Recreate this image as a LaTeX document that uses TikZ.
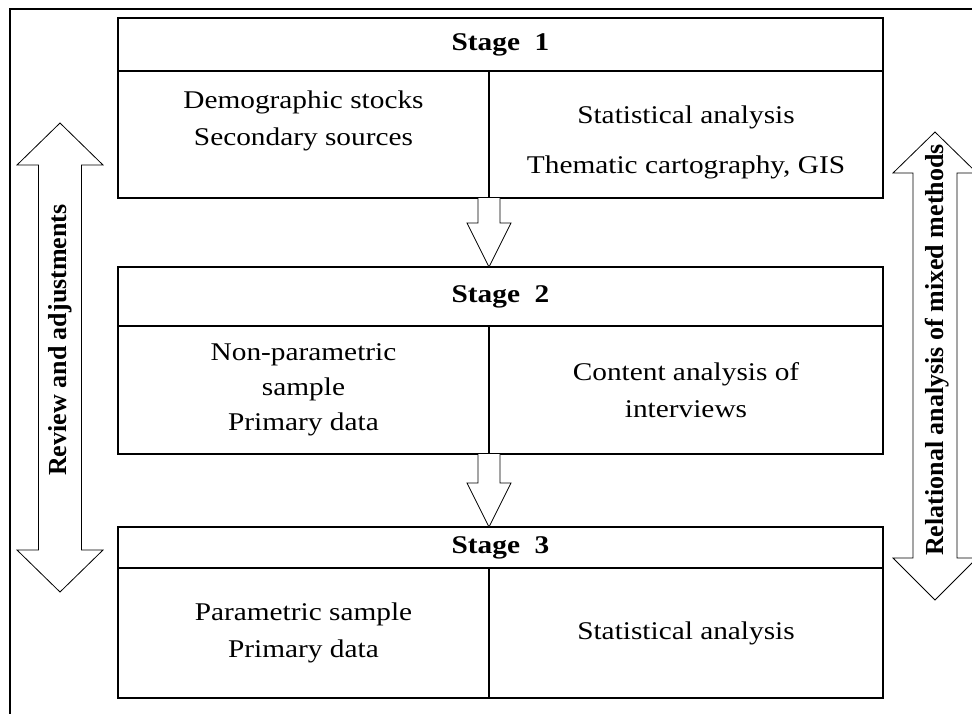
\documentclass[tikz,border=0pt]{standalone}
\usepackage{fontspec}
\setmainfont{Liberation Serif}[FakeStretch=1.15]
\newfontfamily\sidefont{Liberation Serif}
\usetikzlibrary{positioning}
\usetikzlibrary{calc}

% hollow block arrow from a box bottom (#1) down to a tip (#2)
\newcommand{\stagearrow}[2]{%
  \draw[hollow] ($(#1)+(-11,0)$) -- ($(#2)+(-11,44)$) -- ($(#2)+(-22,44)$) -- (#2)
    -- ($(#2)+(22,44)$) -- ($(#2)+(11,44)$) -- ($(#1)+(11,0)$);}

\begin{document}
\begin{tikzpicture}[x=1pt, y=1pt]
% -------------------------------------------------
\tikzset{
  base/.style={draw, line width=2pt, inner sep=0pt, outer sep=0pt, align=center},
  head/.style={base, rectangle, minimum width=765pt, font=\fontsize{25.5}{30}\selectfont\bfseries},
  cell/.style={base, rectangle, font=\fontsize{25.5}{37}\selectfont},
  lcell/.style={cell, minimum width=371pt},
  rcell/.style={cell, minimum width=394pt},
  hollow/.style={draw, line width=0.8pt, fill=white},
  side/.style={rotate=90, inner sep=0pt, font=\sidefont\fontsize{26}{30}\selectfont\bfseries},
}
    \clip (0,0) rectangle (972,-713);
    \draw[line width=1.6pt] (980,-9) -- (10,-9) -- (10,-720);

    % stage 1
    \node [head, minimum height=53pt, anchor=north west] (st1) at (118,-18) {Stage~~1};
    \node [lcell, minimum height=127pt, below right=0pt and 0pt of st1.south west] (l1)
      {Demographic stocks\\Secondary sources\\[-4pt]};
    \node [rcell, minimum height=127pt, right=0pt of l1] (r1)
      {\rule{0pt}{33pt}Statistical analysis\\[13pt]Thematic cartography, GIS};

    % stage 2
    \node [head, minimum height=59pt, below right=69pt and 0pt of l1.south west] (st2) {Stage~~2};
    \node [lcell, minimum height=128pt, below right=0pt and 0pt of st2.south west, font=\fontsize{25.5}{35}\selectfont] (l2)
      {Non-parametric\\sample\\Primary data};
    \node [rcell, minimum height=128pt, right=0pt of l2] (r2)
      {Content analysis of\\interviews};

    % stage 3
    \node [head, minimum height=41pt, below right=73pt and 0pt of l2.south west] (st3) {Stage~~3};
    \node [lcell, minimum height=130pt, below right=0pt and 0pt of st3.south west] (l3)
      {Parametric sample\\Primary data};
    \node [rcell, minimum height=130pt, right=0pt of l3] (r3)
      {Statistical analysis};

    \coordinate (t2) at (l1.south east |- st2.north);
    \coordinate (t3) at (l2.south east |- st3.north);
    \stagearrow{l1.south east}{t2}
    \stagearrow{l2.south east}{t3}

    % side arrows
    \draw[hollow] (60,-123) -- (103,-165) -- (81.5,-165) -- (81.5,-550) -- (103,-550) -- (60,-592)
      -- (17,-550) -- (38.5,-550) -- (38.5,-165) -- (17,-165) -- cycle;
    \draw[hollow] (935,-132) -- (977,-173) -- (957,-173) -- (957,-558) -- (977,-558) -- (935,-600)
      -- (893,-558) -- (913,-558) -- (913,-173) -- (893,-173) -- cycle;
    \node [side] (review) at (60,-340) {Review and adjustments};
    \node [side] (relational) at (937,-350) {Relational analysis of mixed methods};

\end{tikzpicture}
\end{document}
